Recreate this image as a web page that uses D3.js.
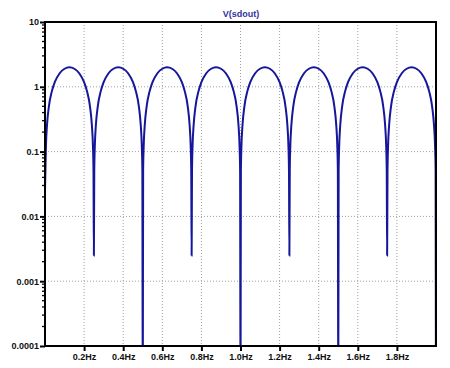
<!DOCTYPE html>
<html><head><meta charset="utf-8">
<script src="https://cdn.jsdelivr.net/npm/d3@7"></script>
<style>body{margin:0;background:#fff}svg{display:block}text{font-family:"Liberation Sans",Arial,sans-serif}</style>
</head><body>
<svg id="c" width="450" height="368"></svg>
<script>
const title = "V(sdout)";
const xTicks = [0.2,0.4,0.6,0.8,1.0,1.2,1.4,1.6,1.8];
const xTickLabels = ["0.2Hz","0.4Hz","0.6Hz","0.8Hz","1.0Hz","1.2Hz","1.4Hz","1.6Hz","1.8Hz"];
const yTicks = [10,1,0.1,0.01,0.001,0.0001];
const yTickLabels = ["10","1","0.1","0.01","0.001","0.0001"];
const freqHz = [
 0,0.002,0.005,0.01,0.02,0.035,0.05,0.075,0.1,0.125,0.15,0.175,0.2,0.215,0.23,0.24,0.245,0.248,
 0.25,0.252,0.255,0.26,0.27,0.285,0.3,0.325,0.35,0.375,0.4,0.425,0.45,0.465,0.48,0.49,0.495,0.498,
 0.5,0.502,0.505,0.51,0.52,0.535,0.55,0.575,0.6,0.625,0.65,0.675,0.7,0.715,0.73,0.74,0.745,0.748,
 0.75,0.752,0.755,0.76,0.77,0.785,0.8,0.825,0.85,0.875,0.9,0.925,0.95,0.965,0.98,0.99,0.995,0.998,
 1.0,1.002,1.005,1.01,1.02,1.035,1.05,1.075,1.1,1.125,1.15,1.175,1.2,1.215,1.23,1.24,1.245,1.248,
 1.25,1.252,1.255,1.26,1.27,1.285,1.3,1.325,1.35,1.375,1.4,1.425,1.45,1.465,1.48,1.49,1.495,1.498,
 1.5,1.502,1.505,1.51,1.52,1.535,1.55,1.575,1.6,1.625,1.65,1.675,1.7,1.715,1.73,1.74,1.745,1.748,
 1.75,1.752,1.755,1.76,1.77,1.785,1.8,1.825,1.85,1.875,1.9,1.925,1.95,1.965,1.98,1.99,1.995,1.998,
 2.0];
const vSdout = [
 0.026,0.05,0.126,0.25,0.50,0.85,1.18,1.62,1.90,2.0,1.90,1.62,1.18,0.85,0.50,0.25,0.126,0.05,
 0.0025,0.05,0.126,0.25,0.50,0.85,1.18,1.62,1.90,2.0,1.90,1.62,1.18,0.85,0.50,0.25,0.126,0.05,
 0.00001,0.05,0.126,0.25,0.50,0.85,1.18,1.62,1.90,2.0,1.90,1.62,1.18,0.85,0.50,0.25,0.126,0.05,
 0.0025,0.05,0.126,0.25,0.50,0.85,1.18,1.62,1.90,2.0,1.90,1.62,1.18,0.85,0.50,0.25,0.126,0.05,
 0.00001,0.05,0.126,0.25,0.50,0.85,1.18,1.62,1.90,2.0,1.90,1.62,1.18,0.85,0.50,0.25,0.126,0.05,
 0.0025,0.05,0.126,0.25,0.50,0.85,1.18,1.62,1.90,2.0,1.90,1.62,1.18,0.85,0.50,0.25,0.126,0.05,
 0.00001,0.05,0.126,0.25,0.50,0.85,1.18,1.62,1.90,2.0,1.90,1.62,1.18,0.85,0.50,0.25,0.126,0.05,
 0.0025,0.05,0.126,0.25,0.50,0.85,1.18,1.62,1.90,2.0,1.90,1.62,1.18,0.85,0.50,0.25,0.126,0.05,
 0.00001];

const m = {l:45, t:22, r:14, b:22};
const W = 450, H = 368;
const svg = d3.select("#c");
const x = d3.scaleLinear().domain([0,2]).range([m.l, W-m.r]);
const y = d3.scaleLog().domain([0.0001,10]).range([H-m.b, m.t]);

svg.append("defs").append("clipPath").attr("id","clip")
  .append("rect").attr("x",m.l).attr("y",m.t).attr("width",W-m.r-m.l).attr("height",H-m.b-m.t);

// grid
const g = svg.append("g");
g.selectAll(".gx").data(xTicks).join("line")
  .attr("x1",d=>x(d)).attr("x2",d=>x(d)).attr("y1",m.t).attr("y2",H-m.b)
  .attr("stroke","#a0a0a0").attr("stroke-width",1).attr("stroke-dasharray","1,2");
g.selectAll(".gy").data(yTicks.slice(1,-1)).join("line")
  .attr("y1",d=>y(d)).attr("y2",d=>y(d)).attr("x1",m.l).attr("x2",W-m.r)
  .attr("stroke","#a0a0a0").attr("stroke-width",1).attr("stroke-dasharray","1,2");

// curve
const data = freqHz.map((f,i)=>({f, v:vSdout[i]}));
svg.append("path").datum(data)
  .attr("clip-path","url(#clip)")
  .attr("fill","none").attr("stroke","#16169a").attr("stroke-width",2)
  .attr("d", d3.line().x(d=>x(d.f)).y(d=>y(d.v)).curve(d3.curveMonotoneX));

// axes
const ax = svg.append("g").attr("transform",`translate(${m.l},0)`)
  .call(d3.axisLeft(y).tickValues(yTicks).tickFormat((d,i)=>yTickLabels[i]).tickSize(5).tickPadding(1));
ax.select(".domain").remove();
ax.selectAll("line").attr("stroke","#000").attr("stroke-width",2);
ax.selectAll("text").attr("font-size",9).attr("font-weight","bold").attr("fill","#111");
// minor ticks
const minor = [];
for (let e=-4;e<1;e++) for (let k=2;k<10;k++) minor.push(k*Math.pow(10,e));
svg.append("g").selectAll("line").data(minor).join("line")
  .attr("x1",m.l-3).attr("x2",m.l).attr("y1",d=>y(d)).attr("y2",d=>y(d))
  .attr("stroke","#000").attr("stroke-width",1.3);

const axb = svg.append("g").attr("transform",`translate(0,${H-m.b})`)
  .call(d3.axisBottom(x).tickValues(xTicks).tickFormat((d,i)=>xTickLabels[i]).tickSize(5).tickPadding(3));
axb.select(".domain").remove();
axb.selectAll("line").attr("stroke","#000").attr("stroke-width",2);
axb.selectAll("text").attr("font-size",9).attr("font-weight","bold").attr("fill","#111");

// frame
svg.append("rect").attr("x",m.l).attr("y",m.t).attr("width",W-m.r-m.l).attr("height",H-m.b-m.t)
  .attr("fill","none").attr("stroke","#000").attr("stroke-width",2);

svg.append("text").attr("x",241).attr("y",17).attr("text-anchor","middle")
  .attr("font-size",9).attr("font-weight","bold").attr("fill","#3232a0").text(title);
</script>
</body></html>
